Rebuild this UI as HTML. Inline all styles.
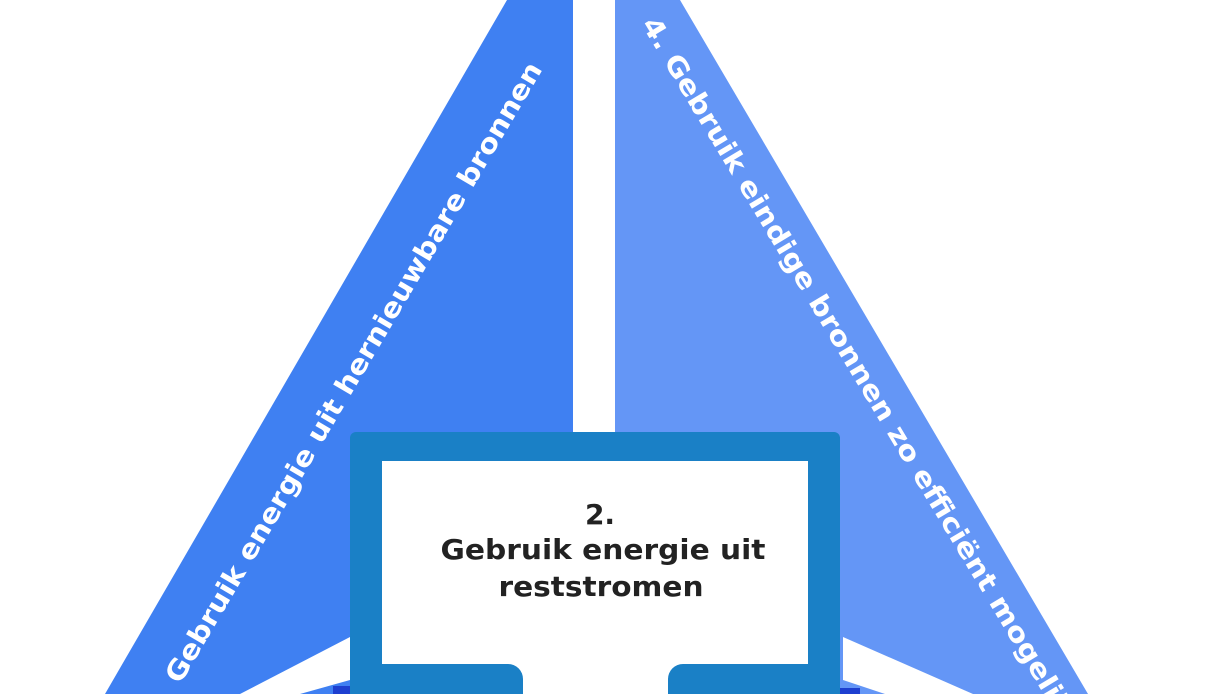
<!DOCTYPE html>
<html><head><meta charset="utf-8"><style>
html,body{margin:0;padding:0;background:#fff;width:1220px;height:694px;overflow:hidden}
svg{display:block;overflow:hidden}
text{font-family:"DejaVu Sans","Liberation Sans",sans-serif;font-weight:bold}
</style></head><body>
<svg width="1220" height="694" viewBox="0 0 1220 694">
<rect width="1220" height="694" fill="#fff"/>
<polygon points="507,0 573,0 573,694 105,694" fill="#3f80f2"/>
<polygon points="615,0 680,0 1088,694 615,694" fill="#6496f6"/>
<polygon points="350,637 350,680 300,694 240,694" fill="#fff"/>
<polygon points="843,637 973,694 885,694 843,680" fill="#fff"/>
<rect x="333" y="686" width="20" height="8" fill="#1d3fd0"/>
<rect x="840" y="688" width="20" height="6" fill="#1d3fd0"/>
<path d="M350,694 V438 A6,6 0 0 1 356,432 H834 A6,6 0 0 1 840,438 V694 Z" fill="#1a80c6"/>
<rect x="382" y="461" width="426" height="203" fill="#fff"/>
<rect x="382" y="660" width="426" height="34" fill="#fff"/>
<path d="M350,664 H508 A15,15 0 0 1 523,679 V694 H350 Z" fill="#1a80c6"/>
<path d="M840,664 H683 A15,15 0 0 0 668,679 V694 H840 Z" fill="#1a80c6"/>
<text x="600" y="524" text-anchor="middle" font-size="28" fill="#222">2.</text>
<text x="603" y="559" text-anchor="middle" font-size="28" fill="#222" textLength="325" lengthAdjust="spacingAndGlyphs">Gebruik energie uit</text>
<text x="601" y="596" text-anchor="middle" font-size="28" fill="#222" textLength="205" lengthAdjust="spacingAndGlyphs">reststromen</text>
<text transform="translate(180,685) rotate(-59.5)" font-size="27" fill="#fff" textLength="715" lengthAdjust="spacingAndGlyphs">Gebruik energie uit hernieuwbare bronnen</text>
<text transform="translate(641,24) rotate(59)" font-size="27" fill="#fff" textLength="820" lengthAdjust="spacingAndGlyphs">4. Gebruik eindige bronnen zo efficiënt mogelijk</text>
</svg>
</body></html>
